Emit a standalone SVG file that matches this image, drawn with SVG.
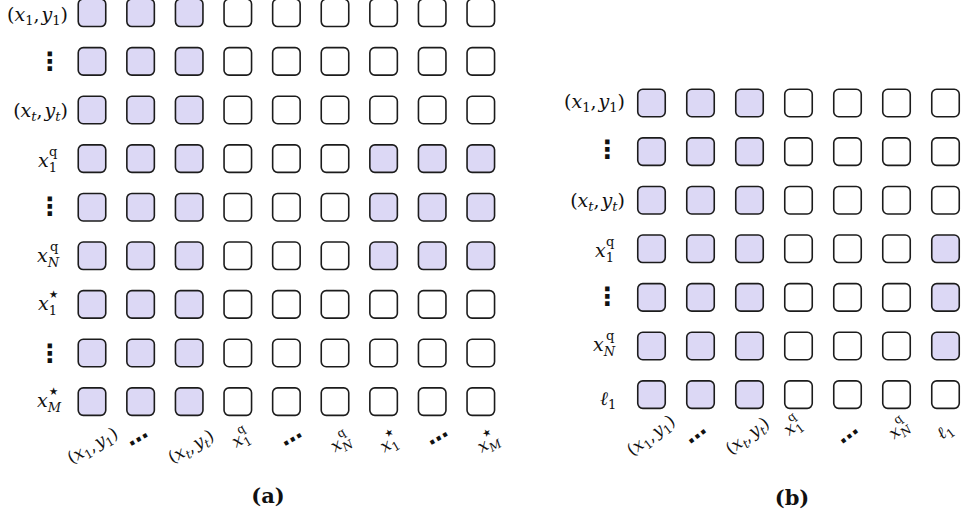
<svg xmlns="http://www.w3.org/2000/svg" width="962" height="518" viewBox="0 0 962 518">
<style>
.f{fill:#dcd8f5;stroke:#1c1c1c;stroke-width:1.6}
.e{fill:#ffffff;stroke:#1c1c1c;stroke-width:1.6}
.t{font-family:"DejaVu Serif","Liberation Serif",serif;font-size:19px;fill:#111}
.bl{font-family:"DejaVu Serif","Liberation Serif",serif;font-size:17px;fill:#111}
.i{font-style:italic}
.s{font-size:13px}
.bs{font-size:12px}
.st{font-family:"DejaVu Sans",sans-serif;font-size:21px}
.bst{font-family:"DejaVu Sans",sans-serif;font-size:20px}
.d{font-family:"DejaVu Sans",sans-serif;font-weight:bold;font-size:25px;fill:#111}
.h{font-family:"DejaVu Sans",sans-serif;font-weight:bold;font-size:22px;fill:#111}
.cap{font-family:"DejaVu Serif",serif;font-weight:bold;font-size:21px;fill:#111}
</style>
<defs>
<rect id="sq" width="27.5" height="27.5" rx="5" ry="5"/>
</defs>

<g id="panel-a">
<g id="a-row1" transform="translate(0,-0.95)">
<use href="#sq" x="78.25" class="f"/><use href="#sq" x="126.85" class="f"/><use href="#sq" x="175.45" class="f"/><use href="#sq" x="224.05" class="e"/><use href="#sq" x="272.65" class="e"/><use href="#sq" x="321.25" class="e"/><use href="#sq" x="369.85" class="e"/><use href="#sq" x="418.45" class="e"/><use href="#sq" x="467.05" class="e"/>
</g>
<g id="a-row2" transform="translate(0,47.65)">
<use href="#sq" x="78.25" class="f"/><use href="#sq" x="126.85" class="f"/><use href="#sq" x="175.45" class="f"/><use href="#sq" x="224.05" class="e"/><use href="#sq" x="272.65" class="e"/><use href="#sq" x="321.25" class="e"/><use href="#sq" x="369.85" class="e"/><use href="#sq" x="418.45" class="e"/><use href="#sq" x="467.05" class="e"/>
</g>
<g id="a-row3" transform="translate(0,96.25)">
<use href="#sq" x="78.25" class="f"/><use href="#sq" x="126.85" class="f"/><use href="#sq" x="175.45" class="f"/><use href="#sq" x="224.05" class="e"/><use href="#sq" x="272.65" class="e"/><use href="#sq" x="321.25" class="e"/><use href="#sq" x="369.85" class="e"/><use href="#sq" x="418.45" class="e"/><use href="#sq" x="467.05" class="e"/>
</g>
<g id="a-row4" transform="translate(0,144.85)">
<use href="#sq" x="78.25" class="f"/><use href="#sq" x="126.85" class="f"/><use href="#sq" x="175.45" class="f"/><use href="#sq" x="224.05" class="e"/><use href="#sq" x="272.65" class="e"/><use href="#sq" x="321.25" class="e"/><use href="#sq" x="369.85" class="f"/><use href="#sq" x="418.45" class="f"/><use href="#sq" x="467.05" class="f"/>
</g>
<g id="a-row5" transform="translate(0,193.45)">
<use href="#sq" x="78.25" class="f"/><use href="#sq" x="126.85" class="f"/><use href="#sq" x="175.45" class="f"/><use href="#sq" x="224.05" class="e"/><use href="#sq" x="272.65" class="e"/><use href="#sq" x="321.25" class="e"/><use href="#sq" x="369.85" class="f"/><use href="#sq" x="418.45" class="f"/><use href="#sq" x="467.05" class="f"/>
</g>
<g id="a-row6" transform="translate(0,242.05)">
<use href="#sq" x="78.25" class="f"/><use href="#sq" x="126.85" class="f"/><use href="#sq" x="175.45" class="f"/><use href="#sq" x="224.05" class="e"/><use href="#sq" x="272.65" class="e"/><use href="#sq" x="321.25" class="e"/><use href="#sq" x="369.85" class="f"/><use href="#sq" x="418.45" class="f"/><use href="#sq" x="467.05" class="f"/>
</g>
<g id="a-row7" transform="translate(0,290.65)">
<use href="#sq" x="78.25" class="f"/><use href="#sq" x="126.85" class="f"/><use href="#sq" x="175.45" class="f"/><use href="#sq" x="224.05" class="e"/><use href="#sq" x="272.65" class="e"/><use href="#sq" x="321.25" class="e"/><use href="#sq" x="369.85" class="e"/><use href="#sq" x="418.45" class="e"/><use href="#sq" x="467.05" class="e"/>
</g>
<g id="a-row8" transform="translate(0,339.25)">
<use href="#sq" x="78.25" class="f"/><use href="#sq" x="126.85" class="f"/><use href="#sq" x="175.45" class="f"/><use href="#sq" x="224.05" class="e"/><use href="#sq" x="272.65" class="e"/><use href="#sq" x="321.25" class="e"/><use href="#sq" x="369.85" class="e"/><use href="#sq" x="418.45" class="e"/><use href="#sq" x="467.05" class="e"/>
</g>
<g id="a-row9" transform="translate(0,387.85)">
<use href="#sq" x="78.25" class="f"/><use href="#sq" x="126.85" class="f"/><use href="#sq" x="175.45" class="f"/><use href="#sq" x="224.05" class="e"/><use href="#sq" x="272.65" class="e"/><use href="#sq" x="321.25" class="e"/><use href="#sq" x="369.85" class="e"/><use href="#sq" x="418.45" class="e"/><use href="#sq" x="467.05" class="e"/>
</g>

<g id="a-row-labels">
<text class="t" x="68" y="20.5" text-anchor="end">(<tspan class="i">x</tspan><tspan class="s" dy="4">1</tspan><tspan dy="-4">,</tspan><tspan class="i" dx="2">y</tspan><tspan class="s" dy="4">1</tspan><tspan dy="-4">)</tspan></text>
<text class="d" x="50" y="70" text-anchor="middle">⋮</text>
<text class="t" x="68" y="117" text-anchor="end">(<tspan class="i">x</tspan><tspan class="s i" dy="4">t</tspan><tspan dy="-4">,</tspan><tspan class="i" dx="2">y</tspan><tspan class="s i" dy="4">t</tspan><tspan dy="-4">)</tspan></text>
<text class="t" x="38" y="166.5"><tspan class="i">x</tspan><tspan class="s" dy="5">1</tspan><tspan class="s" dx="-8" dy="-16">q</tspan></text>
<text class="d" x="50" y="215" text-anchor="middle">⋮</text>
<text class="t" x="37" y="262"><tspan class="i">x</tspan><tspan class="s i" dy="5">N</tspan><tspan class="s" dx="-9" dy="-16">q</tspan></text>
<text class="t" x="38" y="310"><tspan class="i">x</tspan><tspan class="s" dy="5">1</tspan><tspan class="st" dx="-10" dy="-14">⋆</tspan></text>
<text class="d" x="50" y="362" text-anchor="middle">⋮</text>
<text class="t" x="37" y="407"><tspan class="i">x</tspan><tspan class="s i" dy="5">M</tspan><tspan class="st" dx="-14" dy="-14">⋆</tspan></text>
</g>

<g id="a-col-labels">
<text class="bl" text-anchor="middle" transform="translate(95.3,450.4) rotate(-30)">(<tspan class="i">x</tspan><tspan class="bs" dy="4">1</tspan><tspan dy="-4">,</tspan><tspan class="i" dx="2">y</tspan><tspan class="bs" dy="4">1</tspan><tspan dy="-4">)</tspan></text>
<text class="h" text-anchor="middle" transform="translate(142.5,446) rotate(-30)">⋯</text>
<text class="bl" text-anchor="middle" transform="translate(193.8,451.4) rotate(-30)">(<tspan class="i">x</tspan><tspan class="bs i" dy="4">t</tspan><tspan dy="-4">,</tspan><tspan class="i" dx="2">y</tspan><tspan class="bs i" dy="4">t</tspan><tspan dy="-4">)</tspan></text>
<text class="bl" text-anchor="middle" transform="translate(243.5,443.6) rotate(-30)"><tspan class="i">x</tspan><tspan class="bs" dy="4.5">1</tspan><tspan class="bs" dx="-7.5" dy="-14.5">q</tspan></text>
<text class="h" text-anchor="middle" transform="translate(296.5,446) rotate(-30)">⋯</text>
<text class="bl" text-anchor="middle" transform="translate(343.5,447.6) rotate(-30)"><tspan class="i">x</tspan><tspan class="bs i" dy="4.5">N</tspan><tspan class="bs" dx="-8.5" dy="-14.5">q</tspan></text>
<text class="bl" text-anchor="middle" transform="translate(393,447.6) rotate(-30)"><tspan class="i">x</tspan><tspan class="bs" dy="4.5">1</tspan><tspan class="bst" dx="-9.5" dy="-13">⋆</tspan></text>
<text class="h" text-anchor="middle" transform="translate(442.5,445) rotate(-30)">⋯</text>
<text class="bl" text-anchor="middle" transform="translate(491,447.6) rotate(-30)"><tspan class="i">x</tspan><tspan class="bs i" dy="4.5">M</tspan><tspan class="bst" dx="-13.5" dy="-13">⋆</tspan></text>
</g>
<text class="cap" x="268" y="503" text-anchor="middle">(a)</text>
</g>

<g id="panel-b">
<g id="b-row1" transform="translate(0,89.25)">
<use href="#sq" x="637.75" class="f"/><use href="#sq" x="686.75" class="f"/><use href="#sq" x="735.75" class="f"/><use href="#sq" x="784.75" class="e"/><use href="#sq" x="833.75" class="e"/><use href="#sq" x="882.75" class="e"/><use href="#sq" x="931.75" class="e"/>
</g>
<g id="b-row2" transform="translate(0,137.85)">
<use href="#sq" x="637.75" class="f"/><use href="#sq" x="686.75" class="f"/><use href="#sq" x="735.75" class="f"/><use href="#sq" x="784.75" class="e"/><use href="#sq" x="833.75" class="e"/><use href="#sq" x="882.75" class="e"/><use href="#sq" x="931.75" class="e"/>
</g>
<g id="b-row3" transform="translate(0,186.45)">
<use href="#sq" x="637.75" class="f"/><use href="#sq" x="686.75" class="f"/><use href="#sq" x="735.75" class="f"/><use href="#sq" x="784.75" class="e"/><use href="#sq" x="833.75" class="e"/><use href="#sq" x="882.75" class="e"/><use href="#sq" x="931.75" class="e"/>
</g>
<g id="b-row4" transform="translate(0,235.05)">
<use href="#sq" x="637.75" class="f"/><use href="#sq" x="686.75" class="f"/><use href="#sq" x="735.75" class="f"/><use href="#sq" x="784.75" class="e"/><use href="#sq" x="833.75" class="e"/><use href="#sq" x="882.75" class="e"/><use href="#sq" x="931.75" class="f"/>
</g>
<g id="b-row5" transform="translate(0,283.65)">
<use href="#sq" x="637.75" class="f"/><use href="#sq" x="686.75" class="f"/><use href="#sq" x="735.75" class="f"/><use href="#sq" x="784.75" class="e"/><use href="#sq" x="833.75" class="e"/><use href="#sq" x="882.75" class="e"/><use href="#sq" x="931.75" class="f"/>
</g>
<g id="b-row6" transform="translate(0,332.25)">
<use href="#sq" x="637.75" class="f"/><use href="#sq" x="686.75" class="f"/><use href="#sq" x="735.75" class="f"/><use href="#sq" x="784.75" class="e"/><use href="#sq" x="833.75" class="e"/><use href="#sq" x="882.75" class="e"/><use href="#sq" x="931.75" class="f"/>
</g>
<g id="b-row7" transform="translate(0,380.85)">
<use href="#sq" x="637.75" class="f"/><use href="#sq" x="686.75" class="f"/><use href="#sq" x="735.75" class="f"/><use href="#sq" x="784.75" class="e"/><use href="#sq" x="833.75" class="e"/><use href="#sq" x="882.75" class="e"/><use href="#sq" x="931.75" class="e"/>
</g>

<g id="b-row-labels">
<text class="t" x="625" y="107.5" text-anchor="end">(<tspan class="i">x</tspan><tspan class="s" dy="4">1</tspan><tspan dy="-4">,</tspan><tspan class="i" dx="2">y</tspan><tspan class="s" dy="4">1</tspan><tspan dy="-4">)</tspan></text>
<text class="d" x="607.5" y="158" text-anchor="middle">⋮</text>
<text class="t" x="625" y="206.5" text-anchor="end">(<tspan class="i">x</tspan><tspan class="s i" dy="4">t</tspan><tspan dy="-4">,</tspan><tspan class="i" dx="2">y</tspan><tspan class="s i" dy="4">t</tspan><tspan dy="-4">)</tspan></text>
<text class="t" x="595" y="256.5"><tspan class="i">x</tspan><tspan class="s" dy="5">1</tspan><tspan class="s" dx="-8" dy="-16">q</tspan></text>
<text class="d" x="607.5" y="305" text-anchor="middle">⋮</text>
<text class="t" x="593" y="351"><tspan class="i">x</tspan><tspan class="s i" dy="5">N</tspan><tspan class="s" dx="-9" dy="-16">q</tspan></text>
<text class="t" x="600" y="404.5"><tspan class="i">ℓ</tspan><tspan class="s" dy="4">1</tspan></text>
</g>

<g id="b-col-labels">
<text class="bl" text-anchor="middle" transform="translate(654.3,439.9) rotate(-37)">(<tspan class="i">x</tspan><tspan class="bs" dy="4">1</tspan><tspan dy="-4">,</tspan><tspan class="i" dx="2">y</tspan><tspan class="bs" dy="4">1</tspan><tspan dy="-4">)</tspan></text>
<text class="h" text-anchor="middle" transform="translate(702,442.5) rotate(-37)">⋯</text>
<text class="bl" text-anchor="middle" transform="translate(750.8,440.4) rotate(-37)">(<tspan class="i">x</tspan><tspan class="bs i" dy="4">t</tspan><tspan dy="-4">,</tspan><tspan class="i" dx="2">y</tspan><tspan class="bs i" dy="4">t</tspan><tspan dy="-4">)</tspan></text>
<text class="bl" text-anchor="middle" transform="translate(796,431) rotate(-37)"><tspan class="i">x</tspan><tspan class="bs" dy="4.5">1</tspan><tspan class="bs" dx="-7.5" dy="-14.5">q</tspan></text>
<text class="h" text-anchor="middle" transform="translate(854,442.5) rotate(-37)">⋯</text>
<text class="bl" text-anchor="middle" transform="translate(902,433.6) rotate(-37)"><tspan class="i">x</tspan><tspan class="bs i" dy="4.5">N</tspan><tspan class="bs" dx="-8.5" dy="-14.5">q</tspan></text>
<text class="bl" text-anchor="middle" transform="translate(948,435.5) rotate(-37)"><tspan class="i">ℓ</tspan><tspan class="bs" dy="4">1</tspan></text>
</g>
<text class="cap" x="792" y="505" text-anchor="middle">(b)</text>
</g>
</svg>
